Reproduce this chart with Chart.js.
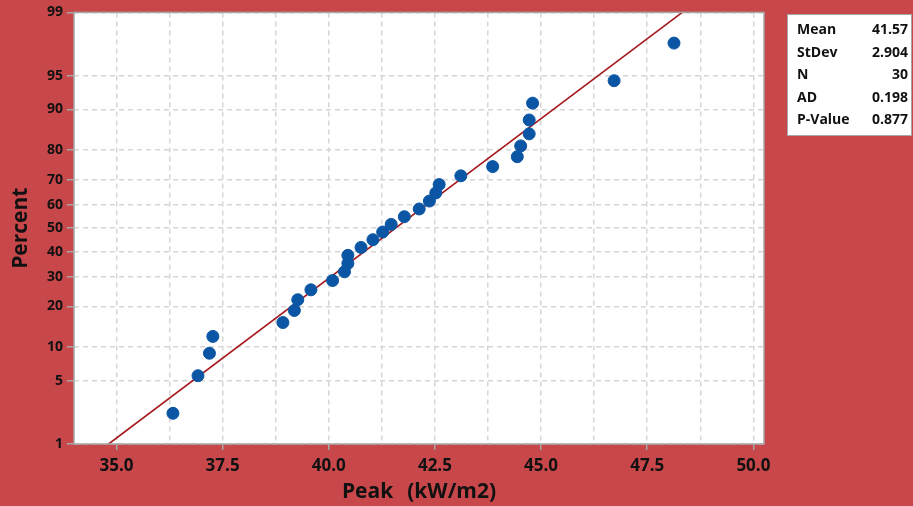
<!DOCTYPE html>
<html>
<head>
<meta charset="utf-8">
<script src="https://cdn.jsdelivr.net/npm/chart.js@4.4.1/dist/chart.umd.min.js"></script>
<style>
  html, body { margin: 0; padding: 0; background: #C8474A; }
  #wrap { width: 913px; height: 506px; position: relative; }
</style>
</head>
<body>
<div id="wrap"><canvas id="c" width="913" height="506"></canvas></div>
<script>
// ---- Data ----
const peak = [36.33, 36.92, 37.19, 37.27, 38.92, 39.19, 39.27, 39.58, 40.09, 40.37,
              40.45, 40.45, 40.76, 41.04, 41.27, 41.47, 41.78, 42.13, 42.37, 42.52,
              42.60, 43.11, 43.86, 44.44, 44.52, 44.72, 44.72, 44.80, 46.72, 48.13];
const percent = [2.30, 5.59, 8.88, 12.17, 15.46, 18.75, 22.04, 25.33, 28.62, 31.91,
                 35.20, 38.49, 41.78, 45.07, 48.36, 51.64, 54.93, 58.22, 61.51, 64.80,
                 68.09, 71.38, 74.67, 77.96, 81.25, 84.54, 87.83, 91.12, 94.41, 97.70];
const fitPeak = [34.815, 48.325];
const fitPercent = [1, 99];
const yTickPercents = [1, 5, 10, 20, 30, 40, 50, 60, 70, 80, 90, 95, 99];
const xTickValues = [35, 36.25, 37.5, 38.75, 40, 41.25, 42.5, 43.75, 45, 46.25, 47.5, 48.75, 50];
const xTickLabels = ['35.0', '', '37.5', '', '40.0', '', '42.5', '', '45.0', '', '47.5', '', '50.0'];
const statLabels = ['Mean', 'StDev', 'N', 'AD', 'P-Value'];
const statValues = ['41.57', '2.904', '30', '0.198', '0.877'];

// inverse standard normal CDF (Acklam) – maps percent to probability-paper position
function invNorm(p) {
  const a = [-3.969683028665376e+01, 2.209460984245205e+02, -2.759285104469687e+02, 1.383577518672690e+02, -3.066479806614716e+01, 2.506628277459239e+00];
  const b = [-5.447609879822406e+01, 1.615858368580409e+02, -1.556989798598866e+02, 6.680131188771972e+01, -1.328068155288572e+01];
  const c = [-7.784894002430293e-03, -3.223964580411365e-01, -2.400758277161838e+00, -2.549732539343734e+00, 4.374664141464968e+00, 2.938163982698783e+00];
  const d = [7.784695709041462e-03, 3.224671290700398e-01, 2.445134137142996e+00, 3.754408661907416e+00];
  const pl = 0.02425, ph = 1 - pl;
  let q, r;
  if (p < pl) { q = Math.sqrt(-2 * Math.log(p));
    return (((((c[0]*q+c[1])*q+c[2])*q+c[3])*q+c[4])*q+c[5]) / ((((d[0]*q+d[1])*q+d[2])*q+d[3])*q+1); }
  if (p <= ph) { q = p - 0.5; r = q*q;
    return (((((a[0]*r+a[1])*r+a[2])*r+a[3])*r+a[4])*r+a[5])*q / (((((b[0]*r+b[1])*r+b[2])*r+b[3])*r+b[4])*r+1); }
  q = Math.sqrt(-2 * Math.log(1 - p));
  return -(((((c[0]*q+c[1])*q+c[2])*q+c[3])*q+c[4])*q+c[5]) / ((((d[0]*q+d[1])*q+d[2])*q+d[3])*q+1);
}
const z = pc => invNorm(pc / 100);

const pointsData = peak.map((v, i) => ({ x: v, y: z(percent[i]) }));
const fitData = fitPeak.map((v, i) => ({ x: v, y: z(fitPercent[i]) }));
const yTickZ = yTickPercents.map(z);

const FONT = '"Open Sans", "DejaVu Sans", sans-serif';

const decor = {
  id: 'decor',
  beforeDraw(chart) {
    const ctx = chart.ctx;
    ctx.save();
    ctx.fillStyle = '#C8474A';
    ctx.fillRect(0, 0, chart.width, chart.height);
    const a = chart.chartArea;
    ctx.fillStyle = '#FFFFFF';
    ctx.fillRect(a.left, a.top, a.right - a.left, a.bottom - a.top);
    ctx.restore();
  },
  afterDraw(chart) {
    const ctx = chart.ctx;
    const a = chart.chartArea;
    ctx.save();
    // frame
    ctx.strokeStyle = '#A6A6A6';
    ctx.lineWidth = 1.5;
    ctx.strokeRect(a.left, a.top, a.right - a.left, a.bottom - a.top);
    // axis titles
    ctx.fillStyle = '#111111';
    ctx.font = 'bold 21px ' + FONT;
    ctx.textAlign = 'center';
    ctx.textBaseline = 'middle';
    ctx.fillText('Peak\u2002\u2009(kW/m2)', (a.left + a.right) / 2, 492);
    ctx.save();
    ctx.translate(21, (a.top + a.bottom) / 2);
    ctx.rotate(-Math.PI / 2);
    ctx.fillText('Percent', 0, 0);
    ctx.restore();
    // stats box
    const bx = 787, by = 14, bw = 125, bh = 122;
    ctx.fillStyle = '#FFFFFF';
    ctx.fillRect(bx, by, bw, bh);
    ctx.strokeStyle = '#A6A6A6';
    ctx.lineWidth = 1;
    ctx.strokeRect(bx + 0.5, by + 0.5, bw - 1, bh - 1);
    ctx.fillStyle = '#111111';
    ctx.font = 'bold 14px ' + FONT;
    statLabels.forEach((t, i) => {
      const y = 30 + i * 22.6;
      ctx.textAlign = 'left';
      ctx.fillText(t, 797, y);
      ctx.textAlign = 'right';
      ctx.fillText(statValues[i], 908, y);
    });
    ctx.restore();
  }
};

new Chart(document.getElementById('c'), {
  type: 'scatter',
  data: {
    datasets: [
      {
        type: 'line',
        data: fitData,
        borderColor: '#A5181C',
        borderWidth: 1.6,
        pointRadius: 0,
        fill: false,
        order: 2
      },
      {
        type: 'scatter',
        data: pointsData,
        backgroundColor: '#0B56A4',
        borderColor: '#0B56A4',
        pointRadius: 6,
        pointHoverRadius: 6,
        order: 1
      }
    ]
  },
  options: {
    responsive: false,
    animation: false,
    devicePixelRatio: 1,
    layout: { padding: { left: 0, top: 11, right: 149, bottom: 0 } },
    plugins: { legend: { display: false }, tooltip: { enabled: false } },
    scales: {
      x: {
        type: 'linear',
        min: 34.0,
        max: 50.25,
        afterBuildTicks(scale) { scale.ticks = xTickValues.map(v => ({ value: v })); },
        afterFit(scale) { scale.height = 62; },
        ticks: {
          autoSkip: false,
          maxRotation: 0,
          padding: 6,
          color: '#111111',
          font: { family: FONT, size: 17, weight: 'bold' },
          callback: (v, i) => xTickLabels[i]
        },
        grid: {
          color: '#D6D6D6',
          lineWidth: 1.5,
          borderDash: [5, 4],
          tickLength: 6,
          tickColor: ctx => (xTickLabels[ctx.index] ? '#A6A6A6' : 'rgba(0,0,0,0)'),
          tickBorderDash: [0, 0]
        },
        border: { display: false, dash: [5, 4] }
      },
      y: {
        type: 'linear',
        min: z(1),
        max: z(99),
        afterBuildTicks(scale) { scale.ticks = yTickZ.map(v => ({ value: v })); },
        afterFit(scale) { scale.width = 74; },
        ticks: {
          autoSkip: false,
          padding: 4,
          color: '#111111',
          font: { family: FONT, size: 14, weight: 'bold' },
          callback: (v, i) => String(yTickPercents[i])
        },
        grid: {
          color: '#D6D6D6',
          lineWidth: 1.5,
          borderDash: [5, 4],
          tickLength: 7,
          tickColor: '#A6A6A6',
          tickBorderDash: [0, 0]
        },
        border: { display: false, dash: [5, 4] }
      }
    }
  },
  plugins: [decor]
});
</script>
</body>
</html>
